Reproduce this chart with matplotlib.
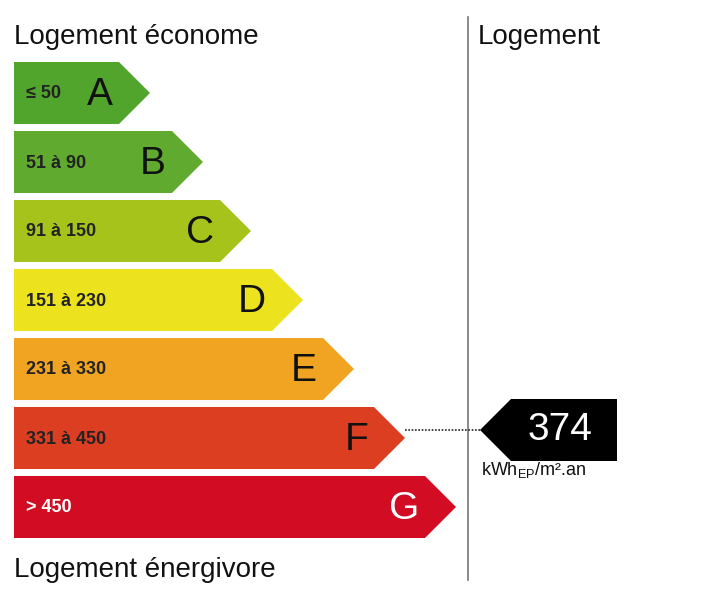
import matplotlib
matplotlib.use('Agg')
import matplotlib.pyplot as plt
from matplotlib.patches import Polygon

plt.rcParams['font.family'] = ['Liberation Sans', 'DejaVu Sans']

grades = ['A', 'B', 'C', 'D', 'E', 'F', 'G']
ranges = ['≤ 50', '51 à 90', '91 à 150', '151 à 230', '231 à 330', '331 à 450', '> 450']
tips = [150, 203, 251, 303, 354, 405, 456]
colors = ['#51a52d', '#5faa2f', '#a5c31a', '#ece21d', '#f0a422', '#dc3e22', '#d20c22']
value = 374
grade_idx = 5

fig = plt.figure(figsize=(7.12, 6.05), dpi=100)
ax = fig.add_axes([0, 0, 1, 1])
ax.set_xlim(0, 712)
ax.set_ylim(605, 0)
ax.axis('off')

x0, h, step, y0 = 14, 62, 69, 62
for i, g in enumerate(grades):
    top = y0 + i * step
    bot = top + h
    mid = top + h / 2
    tip = tips[i]
    body = tip - h / 2
    ax.add_patch(Polygon([(x0, top), (body, top), (tip, mid), (body, bot), (x0, bot)],
                         closed=True, color=colors[i], lw=0))
    ax.text(26, mid + 1, ranges[i], fontsize=13, fontweight='bold', color='#222222' if i < 6 else 'white',
            va='center', ha='left')
    ax.text(body - 6, mid + 2, g, fontsize=28, color='#111111' if i < 6 else 'white',
            va='center', ha='right')

ax.text(14, 37, 'Logement économe', fontsize=20, va='center', color='#111111')
ax.text(14, 570, 'Logement énergivore', fontsize=20, va='center', color='#111111')
ax.text(478, 37, 'Logement', fontsize=20, va='center', color='#111111')
ax.plot([468, 468], [17, 580], color='#777777', lw=1.2)

# indicator
top = y0 + grade_idx * step - 8
mid = top + 31
ax.plot([tips[grade_idx], 480], [mid, mid], color='#222222', lw=1.2, ls=(0, (1, 1)))
ax.add_patch(Polygon([(480, mid), (511, top), (617, top), (617, top + 62), (511, top + 62)],
                     closed=True, color='black', lw=0))
ax.text(560, mid, str(value), fontsize=28, color='white', va='center', ha='center')
ax.text(481, 470, r'kWh$_{\mathregular{EP}}$/m².an', fontsize=13, va='center', ha='left', color='#111111')

fig.savefig('out.png', dpi=100)
